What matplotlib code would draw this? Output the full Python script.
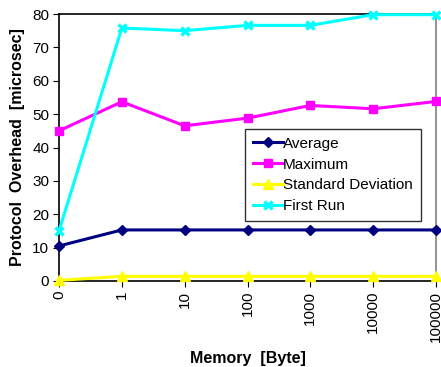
import matplotlib
matplotlib.use("Agg")
import matplotlib.pyplot as plt
import numpy as np

plt.rcParams['font.family'] = ['Liberation Sans', 'DejaVu Sans']

# memory sizes on the x axis (categorical)
memory = ['0', '1', '10', '100', '1000', '10000', '100000']

average = [10.5, 15.3, 15.3, 15.3, 15.3, 15.3, 15.3]
maximum = [45, 53.7, 46.5, 48.8, 52.6, 51.6, 53.8]
std_dev = [0.2, 1.4, 1.4, 1.4, 1.4, 1.4, 1.4]
first_run = [15, 75.8, 75, 76.6, 76.6, 79.8, 79.8]

x = np.arange(len(memory))

fig = plt.figure(figsize=(4.41, 3.67), dpi=100)
ax = fig.add_axes([59 / 441, 1 - 281 / 367, 377 / 441, 267 / 367])

ax.plot(x, average, color='#000080', lw=2.2, marker='D', ms=5, label='Average', clip_on=False, zorder=4)
ax.plot(x, maximum, color='#ff00ff', lw=2.2, marker='s', ms=6, label='Maximum', clip_on=False, zorder=3)
ax.plot(x, std_dev, color='#ffff00', lw=2.2, marker='^', ms=7, label='Standard Deviation', clip_on=False, zorder=5)
ax.plot(x, first_run, color='#00ffff', lw=2.2, marker='x', ms=6, mew=2.5, label='First Run', clip_on=False, zorder=3)

ax.set_xlim(0, len(memory) - 1)
ax.set_ylim(0, 80)
ax.set_yticks(range(0, 81, 10))
ax.set_xticks(x)
ax.set_xticklabels(memory, rotation=90, fontsize=11)
ax.tick_params(axis='y', labelsize=11, length=4, direction='out', pad=3)
ax.tick_params(axis='x', length=4, direction='out', pad=3)

for s in ['left', 'bottom', 'top']:
    ax.spines[s].set_color('black')
    ax.spines[s].set_linewidth(1.2)
ax.spines['right'].set_color('#808080')
ax.spines['right'].set_linewidth(1.2)

ax.set_ylabel('Protocol  Overhead  [microsec]', fontsize=11.5, fontweight='bold', labelpad=5)
ax.set_xlabel('Memory  [Byte]', fontsize=11.5, fontweight='bold', labelpad=7)

leg = ax.legend(loc='upper left', bbox_to_anchor=((245 - 59) / 377, (281 - 129) / 267),
                frameon=True, fancybox=False, shadow=False, fontsize=11,
                handlelength=2.0, handletextpad=0.0, borderpad=0.5, labelspacing=0.45,
                borderaxespad=0)
leg.get_frame().set_edgecolor('black')
leg.get_frame().set_linewidth(1.0)

fig.savefig('out.png', dpi=100)
